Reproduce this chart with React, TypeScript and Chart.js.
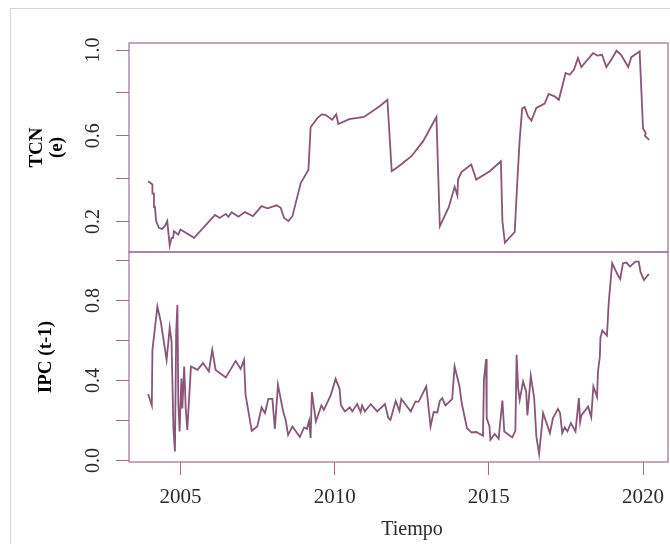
import React, { useEffect, useRef } from "react";
import { Chart, registerables } from "chart.js";

Chart.register(...registerables);

// ---------- data ----------
const X_MIN = 2003.33;
const X_MAX = 2020.81;
const X_TICKS = [2005, 2010, 2015, 2020];
const X_TITLE = "Tiempo";

const TCN_RANGE = [0.058, 1.033];
const TCN_TICKS = [0.2, 0.4, 0.6, 0.8, 1.0];
const TCN_LABELS = [0.2, 0.6, 1.0];
const TCN_TITLE = ["TCN", "(e)"];

const IPC_RANGE = [-0.008, 1.043];
const IPC_TICKS = [0, 0.2, 0.4, 0.6, 0.8, 1.0];
const IPC_LABELS = [0, 0.4, 0.8];
const IPC_TITLE = ["IPC (t-1)"];

const TCN_TIME = [
  2003.95, 2004.07, 2004.09, 2004.09, 2004.14, 2004.14, 2004.17, 2004.21, 2004.30, 2004.41,
  2004.50, 2004.57, 2004.65, 2004.71, 2004.76, 2004.79, 2004.93, 2005.00, 2005.44, 2006.12,
  2006.27, 2006.47, 2006.55, 2006.66, 2006.88, 2007.09, 2007.35, 2007.63, 2007.82, 2008.12,
  2008.25, 2008.36, 2008.50, 2008.63, 2008.90, 2009.15, 2009.22, 2009.44, 2009.58, 2009.70,
  2009.92, 2010.05, 2010.12, 2010.47, 2010.95, 2011.46, 2011.71, 2011.85, 2012.07, 2012.49,
  2012.87, 2013.30, 2013.41, 2013.70, 2013.89, 2013.98, 2014.00, 2014.11, 2014.43, 2014.59,
  2015.03, 2015.39, 2015.44, 2015.52, 2015.84, 2015.92, 2016.00, 2016.08, 2016.16, 2016.27,
  2016.38, 2016.54, 2016.81, 2016.94, 2017.13, 2017.27, 2017.49, 2017.62, 2017.76, 2017.89,
  2018.00, 2018.38, 2018.52, 2018.67, 2018.81, 2018.97, 2019.14, 2019.29, 2019.52, 2019.62,
  2019.89, 2020.00, 2020.09, 2020.06, 2020.20,
];
const TCN = [
  0.388, 0.375, 0.372, 0.330, 0.330, 0.268, 0.268, 0.202, 0.171, 0.166,
  0.181, 0.202, 0.088, 0.124, 0.124, 0.155, 0.139, 0.163, 0.124, 0.231,
  0.217, 0.236, 0.222, 0.244, 0.223, 0.244, 0.225, 0.272, 0.262, 0.276,
  0.264, 0.217, 0.202, 0.225, 0.380, 0.442, 0.640, 0.683, 0.700, 0.698,
  0.675, 0.700, 0.655, 0.678, 0.688, 0.738, 0.768, 0.435, 0.457, 0.505,
  0.575, 0.688, 0.178, 0.267, 0.362, 0.321, 0.396, 0.431, 0.466, 0.396,
  0.435, 0.481, 0.202, 0.101, 0.152, 0.380, 0.582, 0.727, 0.734, 0.691,
  0.671, 0.730, 0.750, 0.795, 0.784, 0.768, 0.893, 0.885, 0.908, 0.963,
  0.921, 0.986, 0.974, 0.978, 0.921, 0.955, 0.997, 0.978, 0.921, 0.967,
  0.994, 0.635, 0.612, 0.600, 0.581,
];

const IPC_TIME = [
  2003.95, 2004.07, 2004.09, 2004.25, 2004.36, 2004.55, 2004.65, 2004.71, 2004.77, 2004.82,
  2004.86, 2004.90, 2004.93, 2004.97, 2005.03, 2005.06, 2005.12, 2005.17, 2005.22, 2005.34,
  2005.55, 2005.73, 2005.92, 2006.03, 2006.14, 2006.47, 2006.79, 2006.95, 2007.06, 2007.11,
  2007.24, 2007.31, 2007.49, 2007.63, 2007.74, 2007.85, 2007.98, 2008.06, 2008.16, 2008.33,
  2008.41, 2008.49, 2008.63, 2008.87, 2009.01, 2009.10, 2009.17, 2009.22, 2009.26, 2009.39,
  2009.57, 2009.65, 2009.87, 2010.03, 2010.16, 2010.20, 2010.33, 2010.49, 2010.57, 2010.73,
  2010.84, 2010.89, 2010.98, 2011.17, 2011.38, 2011.63, 2011.74, 2011.81, 2011.98, 2012.05,
  2012.10, 2012.16, 2012.47, 2012.62, 2012.72, 2012.97, 2013.11, 2013.21, 2013.33, 2013.41,
  2013.49, 2013.59, 2013.81, 2013.89, 2014.05, 2014.12, 2014.29, 2014.43, 2014.59, 2014.81,
  2014.84, 2014.91, 2014.93, 2015.02, 2015.05, 2015.19, 2015.32, 2015.35, 2015.44, 2015.50,
  2015.76, 2015.86, 2015.90, 2015.95, 2016.00, 2016.11, 2016.21, 2016.25, 2016.36, 2016.47,
  2016.54, 2016.63, 2016.76, 2016.98, 2017.08, 2017.24, 2017.31, 2017.38, 2017.46, 2017.55,
  2017.66, 2017.81, 2017.92, 2017.96, 2018.00, 2018.22, 2018.32, 2018.39, 2018.51, 2018.54,
  2018.60, 2018.62, 2018.68, 2018.83, 2018.89, 2019.00, 2019.18, 2019.26, 2019.35, 2019.46,
  2019.58, 2019.75, 2019.86, 2019.92, 2020.03, 2020.19,
];
const IPC = [
  0.332, 0.275, 0.553, 0.770, 0.695, 0.503, 0.665, 0.595, 0.162, 0.045,
  0.645, 0.778, 0.287, 0.145, 0.410, 0.260, 0.470, 0.260, 0.153, 0.470,
  0.453, 0.487, 0.445, 0.553, 0.453, 0.415, 0.498, 0.458, 0.503, 0.328,
  0.212, 0.148, 0.170, 0.265, 0.237, 0.308, 0.308, 0.158, 0.378, 0.245,
  0.203, 0.128, 0.170, 0.117, 0.165, 0.158, 0.198, 0.112, 0.342, 0.195,
  0.275, 0.253, 0.325, 0.408, 0.357, 0.278, 0.245, 0.265, 0.245, 0.282,
  0.242, 0.275, 0.245, 0.282, 0.245, 0.282, 0.212, 0.203, 0.298, 0.268,
  0.248, 0.308, 0.245, 0.295, 0.293, 0.370, 0.170, 0.242, 0.240, 0.298,
  0.312, 0.275, 0.307, 0.470, 0.370, 0.287, 0.162, 0.140, 0.142, 0.123,
  0.403, 0.507, 0.212, 0.170, 0.103, 0.132, 0.108, 0.162, 0.300, 0.145,
  0.115, 0.148, 0.528, 0.362, 0.303, 0.395, 0.345, 0.225, 0.423, 0.312,
  0.120, 0.032, 0.237, 0.137, 0.212, 0.258, 0.237, 0.137, 0.165, 0.145,
  0.187, 0.145, 0.312, 0.192, 0.225, 0.270, 0.217, 0.370, 0.317, 0.445,
  0.520, 0.615, 0.650, 0.625, 0.795, 0.987, 0.928, 0.908, 0.987, 0.990,
  0.970, 0.995, 0.995, 0.942, 0.903, 0.933,
];

// ---------- style ----------
const LINE = "#875678";
const AXIS = "#9a6f8e";
const LABEL = "#2a2a2a";
const FONT = '"Liberation Serif", "DejaVu Serif", serif';

type PanelCfg = {
  times: number[];
  values: number[];
  range: number[];
  ticks: number[];
  labels: number[];
  title: string[];
  titleX: number[];
  padTop: number;
  padBottom: number;
  showX: boolean;
};

const drawRotated = (ctx: CanvasRenderingContext2D, text: string, x: number, y: number) => {
  ctx.save();
  ctx.translate(x, y);
  ctx.rotate(-Math.PI / 2);
  ctx.textAlign = "center";
  ctx.textBaseline = "alphabetic";
  ctx.fillText(text, 0, 0);
  ctx.restore();
};

const makePanel = (canvas: HTMLCanvasElement, cfg: PanelCfg) => {
  const decor = {
    id: "decor",
    afterDraw(chart: any) {
      const { ctx, chartArea: ca, scales } = chart;
      ctx.save();
      ctx.strokeStyle = AXIS;
      ctx.lineWidth = 1.2;
      ctx.strokeRect(ca.left, ca.top, ca.right - ca.left, ca.bottom - ca.top);

      ctx.fillStyle = LABEL;
      ctx.font = `20px ${FONT}`;
      cfg.labels.forEach((v) => {
        drawRotated(ctx, v.toFixed(1), 99, scales.y.getPixelForValue(v));
      });

      ctx.fillStyle = "#000";
      ctx.font = `bold 19px ${FONT}`;
      const cy = (ca.top + ca.bottom) / 2;
      cfg.title.forEach((t, i) => drawRotated(ctx, t, cfg.titleX[i], cy));

      if (cfg.showX) {
        ctx.fillStyle = LABEL;
        ctx.font = `21px ${FONT}`;
        ctx.textAlign = "center";
        ctx.textBaseline = "alphabetic";
        X_TICKS.forEach((v) => {
          ctx.fillText(String(v), scales.x.getPixelForValue(v), 502.5);
        });
        ctx.font = `20px ${FONT}`;
        ctx.fillText(X_TITLE, 412, 535);
      }
      ctx.restore();
    },
  };

  const gridCfg = {
    display: true,
    drawOnChartArea: false,
    drawTicks: true,
    tickLength: 13,
    tickWidth: 1,
    tickColor: AXIS,
    color: AXIS,
  };

  return new Chart(canvas, {
    type: "line",
    data: {
      datasets: [
        {
          data: cfg.times.map((t, i) => ({ x: t, y: cfg.values[i] })),
          borderColor: LINE,
          borderWidth: 1.8,
          pointRadius: 0,
          tension: 0,
          fill: false,
        },
      ],
    },
    options: {
      responsive: false,
      maintainAspectRatio: false,
      animation: false,
      events: [],
      parsing: false as any,
      layout: { padding: { left: 116, right: 2, top: cfg.padTop, bottom: cfg.padBottom } },
      plugins: { legend: { display: false }, tooltip: { enabled: false } },
      scales: {
        x: {
          type: "linear",
          min: X_MIN,
          max: X_MAX,
          display: cfg.showX,
          afterBuildTicks: (s: any) => {
            s.ticks = X_TICKS.map((v) => ({ value: v }));
          },
          ticks: { display: false },
          grid: gridCfg,
          border: { display: false },
        },
        y: {
          type: "linear",
          min: cfg.range[0],
          max: cfg.range[1],
          afterBuildTicks: (s: any) => {
            s.ticks = cfg.ticks.map((v) => ({ value: v }));
          },
          ticks: { display: false },
          grid: gridCfg,
          border: { display: false },
        },
      },
    },
    plugins: [decor],
  } as any);
};

export default function App() {
  const topRef = useRef<HTMLCanvasElement>(null);
  const botRef = useRef<HTMLCanvasElement>(null);

  useEffect(() => {
    const top = makePanel(topRef.current!, {
      times: TCN_TIME,
      values: TCN,
      range: TCN_RANGE,
      ticks: TCN_TICKS,
      labels: TCN_LABELS,
      title: TCN_TITLE,
      titleX: [42, 62],
      padTop: 43,
      padBottom: 292,
      showX: false,
    });
    const bot = makePanel(botRef.current!, {
      times: IPC_TIME,
      values: IPC,
      range: IPC_RANGE,
      ticks: IPC_TICKS,
      labels: IPC_LABELS,
      title: IPC_TITLE,
      titleX: [51],
      padTop: 252,
      padBottom: 69,
      showX: true,
    });
    return () => {
      top.destroy();
      bot.destroy();
    };
  }, []);

  const cstyle: React.CSSProperties = { position: "absolute", left: 0, top: 0, width: 670, height: 544 };
  return (
    <div
      style={{
        position: "absolute",
        left: 0,
        top: 0,
        width: 670,
        height: 544,
        overflow: "hidden",
        background: "#fff",
      }}
    >
      <div
        style={{
          position: "absolute",
          left: 10,
          top: 8,
          width: 720,
          height: 620,
          border: "1px solid #d6d6d6",
        }}
      />
      <canvas ref={topRef} width={670} height={544} style={cstyle} />
      <canvas ref={botRef} width={670} height={544} style={cstyle} />
    </div>
  );
}
